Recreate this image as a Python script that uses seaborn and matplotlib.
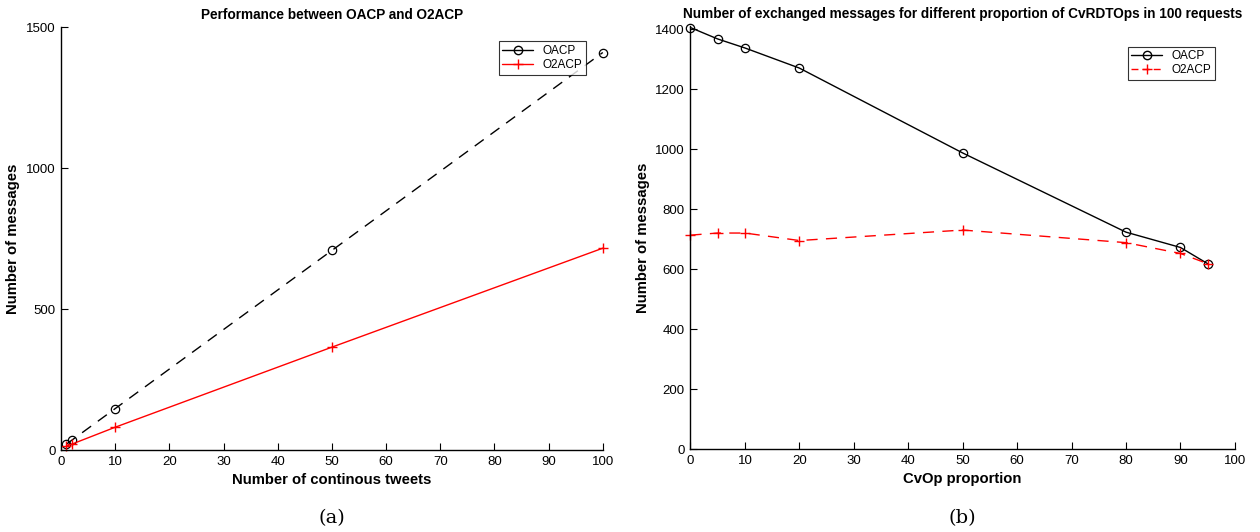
import pandas as pd
import seaborn as sns
import matplotlib
matplotlib.use('Agg')
import matplotlib.pyplot as plt
from matplotlib.lines import Line2D

# (a) messages vs number of continuous tweets
tweets = [1, 2, 10, 50, 100]
oacp_tweets = [21, 35, 147, 708, 1410]
o2acp_tweets = [14, 21, 81, 365, 716]

# (b) messages vs CvOp proportion
cvop = [0, 5, 10, 20, 50, 80, 90, 95]
oacp_cvop = [1405, 1367, 1337, 1270, 987, 723, 672, 618]
o2acp_cvop = [713, 720, 720, 695, 730, 688, 652, 618]

series_names = ['OACP', 'O2ACP']


def style_axes(ax):
    sns.despine(ax=ax)
    for side in ['left', 'bottom']:
        ax.spines[side].set_linewidth(1.0)
        ax.spines[side].set_color('black')
    ax.tick_params(axis='both', which='major', bottom=True, left=True, direction='in',
                   length=5, width=0.8, labelsize=9.5, colors='black', labelcolor='black', pad=4)
    ax.grid(False)
    for line in ax.get_lines():
        line.set_clip_on(False)


def main():
    sns.set_theme(style='white')
    plt.rcParams['font.family'] = ['Liberation Sans', 'DejaVu Sans']
    plt.rcParams['text.color'] = 'black'
    plt.rcParams['axes.labelcolor'] = 'black'
    plt.rcParams['xtick.direction'] = 'in'
    plt.rcParams['ytick.direction'] = 'in'

    fig = plt.figure(figsize=(12.6, 5.32), dpi=100)
    ax1 = fig.add_axes([0.0484, 0.154, 0.430, 0.795])
    ax2 = fig.add_axes([0.548, 0.156, 0.432, 0.795])

    dash = (0, (8, 6))
    lw = 1.0

    # left panel
    sns.lineplot(x=tweets, y=oacp_tweets, ax=ax1, color='black', linestyle=dash,
                 linewidth=lw, marker='o', markersize=6, markerfacecolor='none',
                 markeredgecolor='black', markeredgewidth=0.9)
    sns.lineplot(x=tweets, y=o2acp_tweets, ax=ax1, color='red', linestyle='-',
                 linewidth=lw, marker='+', markersize=7, markeredgecolor='red',
                 markeredgewidth=1.0)
    ax1.set_xlim(0, 100)
    ax1.set_ylim(0, 1500)
    ax1.set_xticks(range(0, 101, 10))
    ax1.set_yticks([0, 500, 1000, 1500])
    ax1.set_title('Performance between OACP and O2ACP', fontsize=9.8, fontweight='bold', pad=6)
    ax1.set_xlabel('Number of continous tweets', fontsize=10.7, fontweight='bold', labelpad=4)
    ax1.set_ylabel('Number of messages', fontsize=10.7, fontweight='bold', labelpad=4)
    style_axes(ax1)
    h1 = [Line2D([], [], color='black', lw=lw, marker='o', mfc='none', ms=6),
          Line2D([], [], color='red', lw=lw, marker='+', ms=7)]
    leg1 = ax1.legend(h1, series_names, loc='upper right', bbox_to_anchor=(0.975, 0.975),
                      fontsize=8.5, frameon=True, fancybox=False, borderpad=0.3,
                      handlelength=2.6, labelspacing=0.2, borderaxespad=0.3)
    leg1.get_frame().set_edgecolor('black')
    leg1.get_frame().set_linewidth(0.8)

    # right panel
    sns.lineplot(x=cvop, y=oacp_cvop, ax=ax2, color='black', linestyle='-',
                 linewidth=lw, marker='o', markersize=6, markerfacecolor='none',
                 markeredgecolor='black', markeredgewidth=0.9)
    sns.lineplot(x=cvop, y=o2acp_cvop, ax=ax2, color='red', linestyle=dash,
                 linewidth=lw, marker='+', markersize=7, markeredgecolor='red',
                 markeredgewidth=1.0)
    ax2.set_xlim(0, 100)
    ax2.set_ylim(0, 1410)
    ax2.set_xticks(range(0, 101, 10))
    ax2.set_yticks(range(0, 1401, 200))
    ax2.set_title('Number of exchanged messages for different proportion of CvRDTOps in 100 requests',
                  fontsize=9.8, fontweight='bold', pad=6)
    ax2.set_xlabel('CvOp proportion', fontsize=10.7, fontweight='bold', labelpad=4)
    ax2.set_ylabel('Number of messages', fontsize=10.7, fontweight='bold', labelpad=4)
    style_axes(ax2)
    h2 = [Line2D([], [], color='black', lw=lw, marker='o', mfc='none', ms=6),
          Line2D([], [], color='red', lw=lw, ls=(0, (5, 3)), marker='+', ms=7)]
    leg2 = ax2.legend(h2, series_names, loc='upper right', bbox_to_anchor=(0.97, 0.96),
                      fontsize=8.5, frameon=True, fancybox=False, borderpad=0.3,
                      handlelength=2.6, labelspacing=0.2, borderaxespad=0.3)
    leg2.get_frame().set_edgecolor('black')
    leg2.get_frame().set_linewidth(0.8)

    # subfigure captions
    fig.text(0.263, 0.027, '(a)', ha='center', va='center', fontsize=14,
             family=['DejaVu Serif'])
    fig.text(0.764, 0.027, '(b)', ha='center', va='center', fontsize=14,
             family=['DejaVu Serif'])

    fig.savefig('out.png', dpi=100)
    plt.close(fig)


if __name__ == '__main__':
    main()
